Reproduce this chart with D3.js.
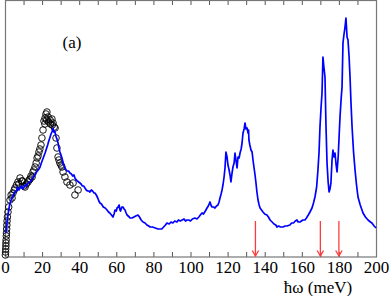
<!DOCTYPE html>
<html>
<head>
<meta charset="utf-8">
<script src="https://cdn.jsdelivr.net/npm/d3@7"></script>
<style>
  body { margin: 0; background: #fff; }
  svg { display: block; }
  text { font-family: "Liberation Serif", serif; }
</style>
</head>
<body>
<svg id="chart"></svg>
<script>
// Calculated spectrum (blue line): energy (meV) and intensity (arb.)
const calcEnergy = [0.5,1.0,1.6,2.2,2.7,3.5,4.3,5.4,6.2,6.8,7.5,8.1,9.0,9.5,10.3,10.8,11.5,12.4,13.5,14.2,15.0,16.2,17.0,17.5,18.3,18.9,19.6,20.2,21.0,21.6,22.3,23.0,23.6,24.3,24.8,25.3,25.9,26.3,26.8,27.4,28.0,28.6,29.1,29.6,30.2,30.7,31.5,32.3,33.0,33.5,34.3,35.0,35.8,36.5,37.2,37.7,38.4,39.0,39.7,40.4,41.0,41.7,42.4,43.1,43.8,44.5,45.2,45.8,46.5,47.2,48.0,48.5,49.2,50.0,50.6,51.2,52.0,53.0,54.0,55.0,55.8,56.5,57.4,58.2,58.8,59.3,60.0,60.4,61.0,61.5,62.0,62.3,63.0,63.6,64.2,64.7,65.3,65.8,66.4,67.0,67.4,68.0,68.5,69.5,70.5,71.7,72.5,73.4,74.4,75.5,76.5,77.5,78.2,79.5,81.0,82.5,83.6,84.5,85.5,86.5,87.3,88.5,89.5,90.5,91.5,92.7,93.5,94.5,95.5,96.5,97.3,98.1,99.0,100.0,101.0,102.4,103.5,104.5,105.3,106.2,107.0,108.0,108.9,109.6,110.5,111.0,111.6,112.4,113.2,114.0,114.8,115.4,115.9,116.5,117.0,117.5,118.1,118.6,119.1,119.7,120.2,120.7,121.3,121.8,122.4,122.9,123.5,124.0,124.5,125.1,125.6,126.2,126.7,127.3,127.8,128.3,128.9,129.4,129.9,130.5,131.0,131.3,131.5,132.0,132.6,133.2,133.7,134.2,134.8,135.3,135.8,136.4,137.0,137.5,138.3,139.1,140.0,141.2,142.0,142.9,144.0,145.0,146.0,146.6,147.5,148.5,149.9,151.0,152.0,153.6,154.5,155.5,156.5,157.4,158.0,159.0,160.6,161.7,162.5,163.5,164.4,165.5,166.3,167.1,168.0,168.7,169.3,169.8,170.4,170.9,171.4,171.9,172.5,173.0,173.6,174.2,174.7,175.2,175.7,176.3,176.8,177.3,177.9,178.5,179.0,179.6,180.1,180.6,181.2,181.7,182.2,182.7,183.3,183.8,184.4,184.9,185.5,186.0,186.5,187.1,187.9,188.7,189.5,190.3,191.5,193.0,194.3,195.7,197.0,197.8,199.0,200.0];
const calcIntensity = [24,33,42,49,54,58,61,65,66,70,67,69,71,68,70,72,71,74,75,77,79,82,85,86,88,90,94,97,101,104,108,112,116,120,123,125,129,125,126,121,118,114,109,105,102,99,93,89,87,86,86,84,83,81,82,79,77,76,75,74,73,71,71,69,67,66,66,65,67,66,64,64,62,59,56,54,53,50,49,47,45,44,42,40,43,47,46,49,50,52,47,46,50,50,48,47,44,42,41,40,39,39,39,40,41,42,40,37,35,34,32,31,30,30,29,28,28,28,30,32,34,33,35,34,36,35,37,36,37,38,36,37,37,36,38,39,38,40,42,44,43,46,49,51,55,52,50,50,49,51,52,55,59,63,67,72,80,89,105,100,92,88,82,75,84,90,94,104,97,89,100,99,104,108,114,124,128,134,128,129,124,127,117,112,107,105,97,90,82,74,65,57,52,49,47,45,43,42,40,37,35,33,32,30,31,30,30,31,31,32,34,34,36,37,35,35,37,37,39,42,45,49,54,60,70,87,105,130,150,164,200,190,180,134,94,75,65,68,74,97,107,100,104,92,85,100,120,140,158,170,214,222,230,239,220,217,200,180,155,130,105,87,72,60,52,44,40,37,35,34,31,29];

// Measured points (open circles)
const expEnergy = [0.2,0.3,0.4,0.5,0.5,0.6,0.7,0.8,0.9,1.0,1.1,1.3,1.6,2.0,2.7,3.3,3.8,4.3,5.0,5.4,6.2,7.0,7.5,8.1,9.0,9.5,10.2,10.8,11.5,12.4,13.0,13.5,14.0,14.6,15.1,15.6,16.2,16.8,17.3,17.8,18.3,18.8,19.4,19.9,20.5,21.0,21.5,21.6,22.1,22.5,22.6,23.2,23.5,24.3,24.5,25.3,25.5,25.9,26.5,27.0,27.5,28.0,28.6,29.1,29.6,30.2,30.7,31.3,32.3,33.4,35.0,36.7,37.7,39.4];
const expIntensity = [2,5,8,11,14,17,21,24,28,32,36,40,45,50,57,62,59,64,67,69,72,75,73,79,76,76,71,70,73,75,77,78,81,80,85,87,90,94,99,101,105,108,112,119,127,136,133,139,143,137,145,140,135,137,133,138,132,134,130,129,119,109,100,97,94,92,90,85,80,75,72,74,62,67];

// Red arrows
const arrowEnergy = [135, 170, 180];
const arrowTop = 36;
const arrowTip = 1;

const tickValues = d3.range(0, 201, 10);
const tickLabels = d3.range(0, 201, 20);
const panelLabel = "(a)";
const xTitle = "ħω (meV)";

const W = 391, H = 296;
const margin = {top: 0, left: 5};
const width = 372, height = 257;
const serif = "Liberation Serif, serif";

const svg = d3.select("#chart").attr("width", W).attr("height", H);
const g = svg.append("g").attr("transform", `translate(${margin.left},${margin.top})`);

const x = d3.scaleLinear().domain([0, 200]).range([0, 371]);
const y = d3.scaleLinear().domain([0, 257]).range([height, 0]);

// Axes, ticks pointing inward
const xAxisBottom = g.append("g")
    .attr("transform", `translate(0,${height})`)
    .call(d3.axisBottom(x).tickValues(tickValues).tickSizeInner(-5).tickSizeOuter(0).tickPadding(4)
        .tickFormat(d => tickLabels.includes(d) ? d : ""));
xAxisBottom.attr("font-family", serif).attr("font-size", 17);
xAxisBottom.select(".domain").remove();
xAxisBottom.selectAll("line").attr("stroke", "#555");
xAxisBottom.selectAll("text").attr("fill", "#000");

const xAxisTop = g.append("g")
    .call(d3.axisTop(x).tickValues(tickValues).tickSizeInner(-5).tickSizeOuter(0).tickFormat(""));
xAxisTop.select(".domain").remove();
xAxisTop.selectAll("line").attr("stroke", "#555");

// Frame
g.append("rect")
    .attr("x", 0.5).attr("y", 0.5)
    .attr("width", width - 1).attr("height", height - 0.5)
    .attr("fill", "none").attr("stroke", "#777").attr("stroke-width", 1.2);

// Measured circles
const expData = expEnergy.map((e, i) => [e, expIntensity[i]]);
g.append("g").selectAll("circle")
    .data(expData)
    .join("circle")
    .attr("cx", d => x(d[0]))
    .attr("cy", d => y(d[1]))
    .attr("r", 3.3)
    .attr("fill", "none")
    .attr("stroke", "#000")
    .attr("stroke-width", 0.9);

// Calculated line
const calcData = calcEnergy.map((e, i) => [e, calcIntensity[i]]);
g.append("path")
    .datum(calcData)
    .attr("d", d3.line().x(d => x(d[0])).y(d => y(d[1])))
    .attr("fill", "none")
    .attr("stroke", "#0000ff")
    .attr("stroke-width", 1.7)
    .attr("stroke-linejoin", "round");

// Red arrows
const arrows = g.append("g").attr("stroke", "#ff3b3b").attr("stroke-width", 1.3).attr("fill", "none");
arrowEnergy.forEach(e => {
    const ax = x(e), y1 = y(arrowTop), y2 = y(arrowTip);
    arrows.append("line").attr("x1", ax).attr("x2", ax).attr("y1", y1).attr("y2", y2);
    arrows.append("path").attr("d", `M${ax - 3.2},${y2 - 5.5}L${ax},${y2}L${ax + 3.2},${y2 - 5.5}`);
});

// Panel label
g.append("text")
    .attr("x", 67).attr("y", 48)
    .attr("text-anchor", "middle")
    .attr("font-family", serif)
    .attr("font-size", 17)
    .text(panelLabel);

// X axis title
svg.append("text")
    .attr("x", 318).attr("y", 293)
    .attr("text-anchor", "middle")
    .attr("font-family", serif)
    .attr("font-size", 17)
    .text(xTitle);
</script>
</body>
</html>
